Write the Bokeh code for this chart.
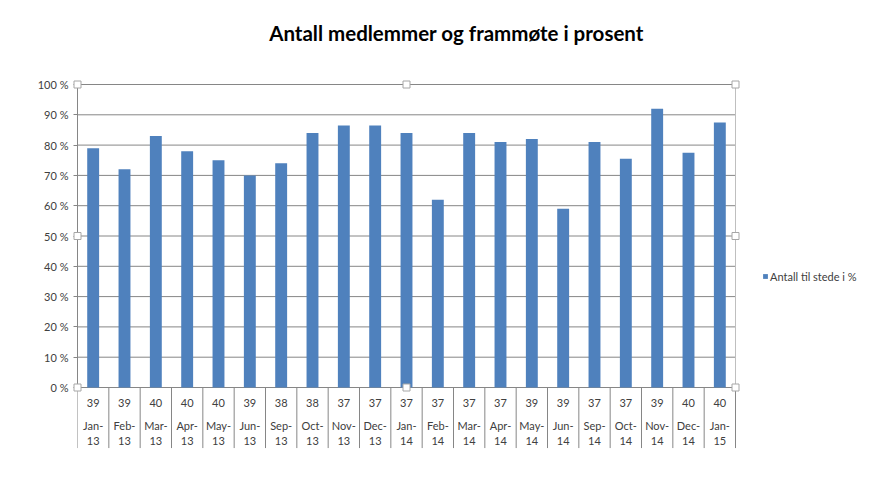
import numpy as np
from bokeh.plotting import figure
from bokeh.models import (Range1d, FixedTicker, Legend, LegendItem, Label,
                          ColumnDataSource)
from bokeh.core.properties import value
from bokeh.embed import file_html
from bokeh.resources import INLINE

# ---- data ----
months = ["Jan-13", "Feb-13", "Mar-13", "Apr-13", "May-13", "Jun-13", "Sep-13",
          "Oct-13", "Nov-13", "Dec-13", "Jan-14", "Feb-14", "Mar-14", "Apr-14",
          "May-14", "Jun-14", "Sep-14", "Oct-14", "Nov-14", "Dec-14", "Jan-15"]
members = [39, 39, 40, 40, 40, 39, 38, 38, 37, 37, 37, 37, 37, 37, 39, 39,
           37, 37, 39, 40, 40]
attendance_pct = [79, 72, 83, 78, 75, 70, 74, 84, 86.5, 86.5, 84, 62, 84, 81,
                  82, 59, 81, 75.5, 92, 77.5, 87.5]
y_ticks = [0, 10, 20, 30, 40, 50, 60, 70, 80, 90, 100]
series_name = "Antall til stede i %"
title_text = "Antall medlemmer og frammøte i prosent"

FONT = "Lato"
GRID = "#868686"
TXT = "#404040"
BAR = "#4F81BD"

n = len(months)
xc = np.arange(n) + 0.5

# layout (pixels)
W, H = 857, 479
LEFT = 77            # plot-area left edge
PLOT_W = 658         # plot-area width for the n categories
PLOT_TOP = 84        # y pixel of 100 %
PLOT_H = 303         # pixels for 0..100 %
FRAME_H = 448
px_x = PLOT_W / n            # pixels per category
px_y = PLOT_H / 100.0        # pixels per percent
x_end = (W - LEFT) / px_x
y_top = 100 + PLOT_TOP / px_y
y_bot = y_top - FRAME_H / px_y

p = figure(width=W, height=H, output_backend="svg", toolbar_location=None,
           x_range=Range1d(0, x_end), y_range=Range1d(y_bot, y_top),
           x_axis_type=None, title=None,
           min_border_left=LEFT, min_border_right=0,
           min_border_top=0, min_border_bottom=H - FRAME_H)
p.outline_line_color = None
p.background_fill_color = "white"
p.border_fill_color = "white"
p.ygrid.visible = False

# y axis
yax = p.yaxis[0]
yax.ticker = FixedTicker(ticks=y_ticks)
yax.bounds = (0, 100)
yax.major_label_overrides = {t: f"{t} %" for t in y_ticks}
yax.axis_line_color = GRID
yax.major_tick_line_color = GRID
yax.major_tick_out = 4
yax.major_tick_in = 0
yax.minor_tick_line_color = None
yax.major_label_text_font = FONT
yax.major_label_text_font_size = "11px"
yax.major_label_text_color = TXT
yax.major_label_standoff = 5

# horizontal grid lines across the plot area only
nt = len(y_ticks)
p.segment(x0=np.zeros(nt), y0=y_ticks, x1=np.full(nt, n), y1=y_ticks,
          line_color=GRID, line_width=1)

# right border of plot area
p.segment(x0=[n], y0=[0], x1=[n], y1=[100], line_color="#BFBFBF", line_width=1)

# category separators in the label table
bounds = np.arange(n + 1)
p.segment(x0=bounds, y0=np.zeros(n + 1), x1=bounds,
          y1=np.full(n + 1, -20.0), line_color=GRID, line_width=1)

# bars
src = ColumnDataSource(dict(x=xc, top=attendance_pct))
bars = p.vbar(x="x", top="top", width=0.38, source=src, fill_color=BAR,
              line_color=None)

# category labels (two-level table)
line1 = [m.split("-")[0] + "-" for m in months]
line2 = [m.split("-")[1] for m in months]
lab_src = ColumnDataSource(dict(x=xc, cnt=[str(v) for v in members],
                                l1=line1, l2=line2,
                                y0=np.full(n, -5.0), y1=np.full(n, -12.5),
                                y2=np.full(n, -17.5)))
for col, ycol in (("cnt", "y0"), ("l1", "y1"), ("l2", "y2")):
    p.text(x="x", y=ycol, text=col, source=lab_src, text_align="center",
           text_baseline="middle", text_font=value(FONT),
           text_font_size="11px", text_color=TXT)

# selection handles of the plot area
hx = [0, n / 2, n, 0, n, 0, n / 2, n]
hy = [100, 100, 100, 50, 50, 0, 0, 0]
p.scatter(x=hx, y=hy, marker="square", size=7, fill_color="white",
          line_color="#A6A6A6", level="overlay")

# legend (to the right of the plot area)
legend = Legend(items=[LegendItem(label=series_name, renderers=[bars])],
                location=(762 - LEFT, FRAME_H - 276 - 7), orientation="vertical",
                glyph_width=6, glyph_height=6, label_standoff=2,
                label_height=14, padding=0, margin=0, spacing=0,
                border_line_color=None, background_fill_alpha=0,
                label_text_font=FONT, label_text_font_size="11px",
                label_text_color=TXT)
p.add_layout(legend)

# title
title = Label(x=(456 - LEFT) / px_x, y=100 + (PLOT_TOP - 32) / px_y,
              text=title_text, text_align="center", text_baseline="alphabetic",
              text_font=FONT, text_font_style="bold", text_font_size="20.5px",
              text_color="black")
p.add_layout(title)

open("out.html", "w").write(file_html(p, INLINE))
